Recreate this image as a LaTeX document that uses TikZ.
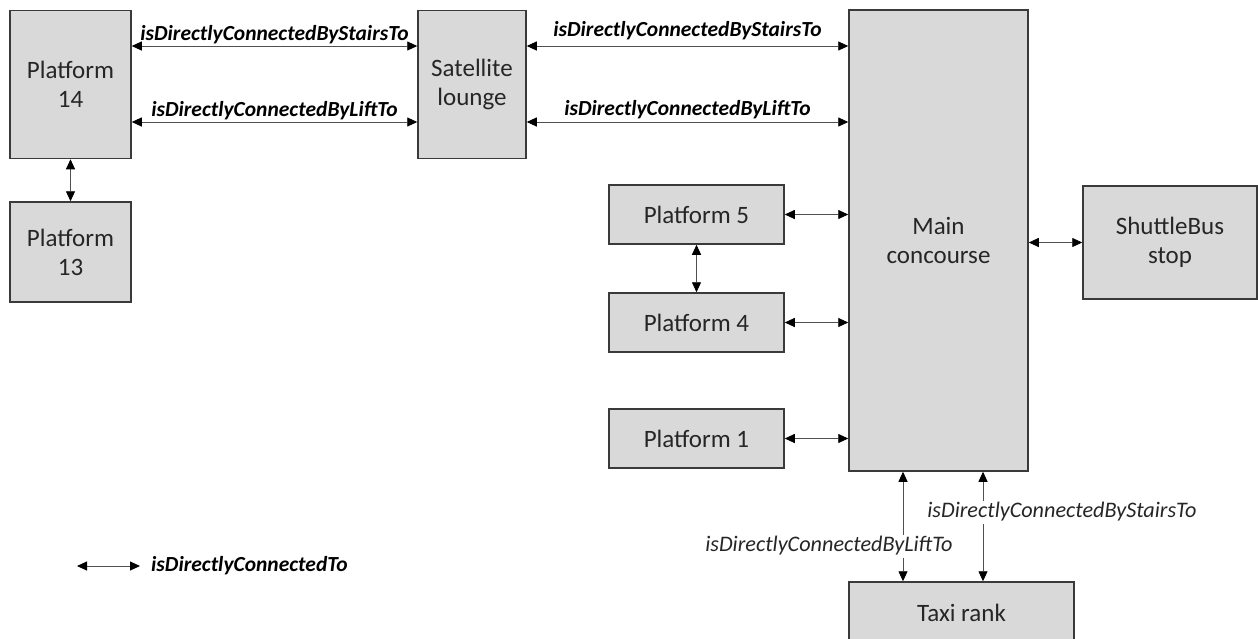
\documentclass[tikz,border=0pt]{standalone}
\usepackage{fontspec}
\setmainfont{Carlito}
\usetikzlibrary{arrows.meta}
\definecolor{boxfill}{HTML}{D9D9D9}
\definecolor{boxline}{HTML}{3A3A3A}
\definecolor{arrline}{HTML}{505050}
\tikzset{
  box/.style={draw=boxline, line width=1.5pt, fill=boxfill, rectangle, inner sep=0pt,
    align=center, font=\fontsize{25}{29}\selectfont, text=black!85},
  conn/.style={draw=arrline, line width=0.9pt,
    {Triangle[length=10pt,width=9pt,color=black]}-{Triangle[length=10pt,width=9pt,color=black]}},
  blab/.style={font=\fontsize{21.5}{24}\selectfont\bfseries\itshape, inner sep=1pt},
  ilab/.style={font=\fontsize{22.2}{24}\selectfont\itshape, fill=white, inner sep=2pt, text=black!85},
}
\begin{document}
\begin{tikzpicture}[x=1pt,y=-1pt]
\clip (0,0) rectangle (1258,638);
\fill[white] (0,0) rectangle (1258,638);
% nodes
\node[box, minimum width=121, minimum height=148] (p14) at (70.5,84.5) {Platform\\14};
\node[box, minimum width=121, minimum height=100] (p13) at (70.5,252) {Platform\\13};
\node[box, minimum width=108, minimum height=148] (sat) at (472,84.5) {Satellite\\lounge};
\node[box, minimum width=179, minimum height=461] (main) at (938.5,240.5) {Main\\concourse};
\node[box, minimum width=175, minimum height=59] (p5) at (696.5,214.5) {Platform 5};
\node[box, minimum width=175, minimum height=59] (p4) at (696.5,322.5) {Platform 4};
\node[box, minimum width=175, minimum height=59] (p1) at (696.5,438.5) {Platform 1};
\node[box, minimum width=174, minimum height=113] (bus) at (1170,242.5) {ShuttleBus\\stop};
\node[box, minimum width=225, minimum height=62] (taxi) at (961.5,613) {Taxi rank};
% helper coordinates
\coordinate (ys) at (0,46);
\coordinate (yl) at (0,122);
\coordinate (xl) at (903,0);
\coordinate (xs) at (983,0);
% top connectors
\draw[conn] (p14.east |- ys) -- node[blab, above, yshift=1pt] {isDirectlyConnectedByStairsTo} (sat.west |- ys);
\draw[conn] (p14.east |- yl) -- node[blab, above, yshift=1pt] {isDirectlyConnectedByLiftTo} (sat.west |- yl);
\draw[conn] (sat.east |- ys) -- node[blab, above, yshift=5pt] {isDirectlyConnectedByStairsTo} (main.west |- ys);
\draw[conn] (sat.east |- yl) -- node[blab, above, yshift=2pt] {isDirectlyConnectedByLiftTo} (main.west |- yl);
% vertical
\draw[conn] (p14.south) -- (p13.north);
\draw[conn] (p5.south) -- (p4.north);
% platforms to main
\draw[conn] (p5.east) -- (main.west |- p5.east);
\draw[conn] (p4.east) -- (main.west |- p4.east);
\draw[conn] (p1.east) -- (main.west |- p1.east);
\draw[conn] (main.east |- bus.west) -- (bus.west);
% taxi
\draw[conn] (main.south -| xl) -- (taxi.north -| xl);
\draw[conn] (main.south -| xs) -- (taxi.north -| xs);
\node[ilab] (liftlab) at (829,546) {isDirectlyConnectedByLiftTo};
\node[ilab] (stairlab) at (1062,512) {isDirectlyConnectedByStairsTo};
% legend
\coordinate (lga) at (77,566);
\coordinate (lgb) at (140,566);
\draw[conn] (lga) -- (lgb);
\node[blab, anchor=west] (lgt) at (150,566) {isDirectlyConnectedTo};
\end{tikzpicture}
\end{document}
